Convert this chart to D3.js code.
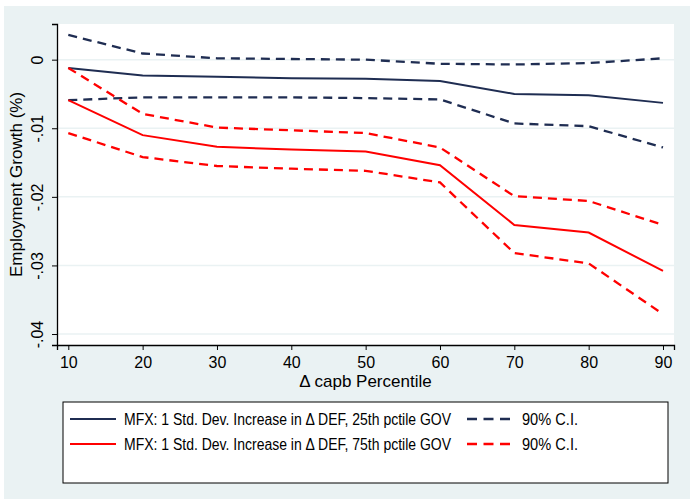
<!DOCTYPE html>
<html>
<head>
<meta charset="utf-8">
<script src="https://cdn.jsdelivr.net/npm/d3@7"></script>
<style>
  body { margin: 0; background: #fff; }
  text { font-family: Arial, "Liberation Sans", sans-serif; fill: #000; }
</style>
</head>
<body>
<div id="chart"></div>
<script>
// percentiles on the x axis
const percentiles = [10, 20, 30, 40, 50, 60, 70, 80, 90];

// 25th pctile GOV: marginal effect and 90% CI
const mfx25 = [-0.0012, -0.0023, -0.0025, -0.0027, -0.0028, -0.0031, -0.0050, -0.0052, -0.0063];
const hi25 = [0.0036, 0.0009, 0.0002, 0.0001, 0.0000, -0.0006, -0.0007, -0.0005, 0.0002];
const lo25 = [-0.0059, -0.0055, -0.0055, -0.0055, -0.0056, -0.0058, -0.0093, -0.0097, -0.0128];

// 75th pctile GOV: marginal effect and 90% CI
const mfx75 = [-0.0059, -0.0110, -0.0127, -0.0131, -0.0134, -0.0154, -0.0241, -0.0252, -0.0308];
const hi75 = [-0.0012, -0.0079, -0.0099, -0.0103, -0.0107, -0.0128, -0.0199, -0.0206, -0.0241];
const lo75 = [-0.0107, -0.0142, -0.0155, -0.0159, -0.0162, -0.0179, -0.0282, -0.0297, -0.0371];

const yTicks = [0, -0.01, -0.02, -0.03, -0.04];
const yTickLabels = ["0", "-.01", "-.02", "-.03", "-.04"];
const legendLabels = [
  "MFX: 1 Std. Dev. Increase in \u0394 DEF, 25th pctile GOV",
  "MFX: 1 Std. Dev. Increase in \u0394 DEF, 75th pctile GOV"
];
const ciLabel = "90% C.I.";

const W = 690, H = 503;
const navy = "#1f2d52", red = "#ff0000", bg = "#eaf2f3";
const plot = { left: 57, right: 674, top: 24, bottom: 345 };

const svg = d3.select("#chart").append("svg")
  .attr("width", W).attr("height", H);

// outer background and plot region
svg.append("rect").attr("x", 4).attr("y", 6).attr("width", W - 4).attr("height", H - 10).attr("fill", bg);
svg.append("rect")
  .attr("x", plot.left).attr("y", plot.top)
  .attr("width", plot.right - plot.left).attr("height", plot.bottom - plot.top)
  .attr("fill", "#fff");

const x = d3.scaleLinear().domain([8.48, 91.48]).range([plot.left, plot.right]);
const y = d3.scaleLinear().domain([-0.0416, 0.0052]).range([plot.bottom, plot.top]);

// gridlines
svg.append("g").selectAll("line").data(yTicks).join("line")
  .attr("x1", plot.left).attr("x2", plot.right)
  .attr("y1", d => y(d)).attr("y2", d => y(d))
  .attr("stroke", bg).attr("stroke-width", 1.5);

// axes
const yAxis = svg.append("g")
  .attr("transform", `translate(${plot.left},0)`)
  .call(d3.axisLeft(y).tickValues(yTicks).tickSize(5)
    .tickFormat((d, i) => yTickLabels[i]));
yAxis.selectAll("text")
  .attr("font-size", 16)
  .attr("transform", "rotate(-90)")
  .attr("x", 0).attr("y", -14).attr("dy", 0)
  .attr("text-anchor", "middle");
yAxis.select(".domain").attr("stroke", "#000").attr("stroke-width", 1.3);

const xAxis = svg.append("g")
  .attr("transform", `translate(0,${plot.bottom})`)
  .call(d3.axisBottom(x).tickValues(percentiles).tickSize(5).tickPadding(4)
    .tickFormat(d3.format("d")));
xAxis.selectAll("text").attr("font-size", 16).attr("dy", "0.85em");
xAxis.select(".domain").attr("stroke", "#000").attr("stroke-width", 1.3);
svg.selectAll(".tick line").attr("stroke", "#000");

// axis titles
svg.append("text")
  .attr("x", (plot.left + plot.right) / 2).attr("y", 387)
  .attr("text-anchor", "middle").attr("font-size", 17)
  .text("\u0394 capb Percentile");
svg.append("text")
  .attr("transform", `translate(22,${(plot.top + plot.bottom) / 2}) rotate(-90)`)
  .attr("text-anchor", "middle").attr("font-size", 17)
  .text("Employment Growth (%)");

// series
const line = d3.line().x((d, i) => x(percentiles[i])).y(d => y(d));
const series = [
  { values: hi25, color: navy, dash: "9,6" },
  { values: lo25, color: navy, dash: "9,6" },
  { values: mfx25, color: navy, dash: null },
  { values: hi75, color: red, dash: "9,6" },
  { values: lo75, color: red, dash: "9,6" },
  { values: mfx75, color: red, dash: null }
];
svg.append("g").selectAll("path").data(series).join("path")
  .attr("d", d => line(d.values))
  .attr("fill", "none")
  .attr("stroke", d => d.color)
  .attr("stroke-width", d => d.dash ? 2.3 : 2)
  .attr("stroke-dasharray", d => d.dash);

// legend
const leg = svg.append("g");
leg.append("rect").attr("x", 63).attr("y", 402).attr("width", 605).attr("height", 81)
  .attr("fill", "#fff").attr("stroke", "#000").attr("stroke-width", 1);
const legRows = [
  { label: legendLabels[0], color: navy, y: 419 },
  { label: legendLabels[1], color: red, y: 444 }
];
legRows.forEach(r => {
  leg.append("line").attr("x1", 70).attr("x2", 116).attr("y1", r.y).attr("y2", r.y)
    .attr("stroke", r.color).attr("stroke-width", 2.2);
  leg.append("text").attr("x", 124).attr("y", r.y + 6).attr("font-size", 16)
    .attr("textLength", 327).attr("lengthAdjust", "spacingAndGlyphs")
    .text(r.label);
  leg.append("line").attr("x1", 467).attr("x2", 510).attr("y1", r.y).attr("y2", r.y)
    .attr("stroke", r.color).attr("stroke-width", 2.3).attr("stroke-dasharray", "10,6.5");
  leg.append("text").attr("x", 522).attr("y", r.y + 6).attr("font-size", 16)
    .attr("textLength", 56).attr("lengthAdjust", "spacingAndGlyphs")
    .text(ciLabel);
});
</script>
</body>
</html>
